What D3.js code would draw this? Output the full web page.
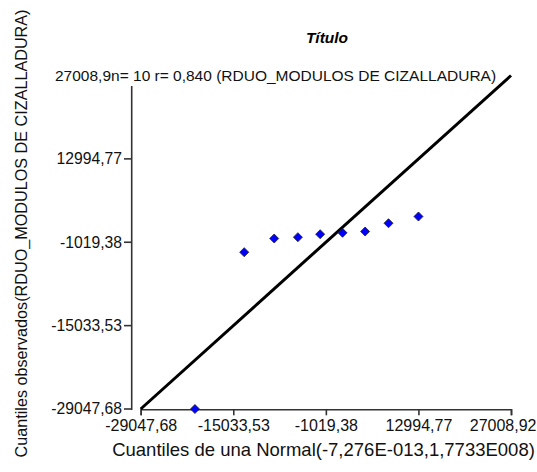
<!DOCTYPE html>
<html><head><meta charset="utf-8">
<script src="https://cdn.jsdelivr.net/npm/d3@7"></script>
<style>body{margin:0;background:#fff}svg{display:block}text{font-family:"Liberation Sans",Arial,sans-serif}</style>
</head><body>
<script>
const axisMin = -29047.68, axisMax = 27008.92;
const xTickValues = [-29047.68, -15033.53, -1019.38, 12994.77, 27008.92];
const xTickLabels = ["-29047,68", "-15033,53", "-1019,38", "12994,77", "27008,92"];
const yTickValues = [-29047.68, -15033.53, -1019.38, 12994.77];
const yTickLabels = ["-29047,68", "-15033,53", "-1019,38", "12994,77"];
const theoretical = [-20834, -13377, -8840, -5254, -1881, 1507, 4926, 8465, 13002];
const observed = [-29047.68, -2693, -390, -172, 333, 568, 787, 2181, 3308];
const title = "Título";
const topText = "27008,9n= 10 r= 0,840 (RDUO_MODULOS DE CIZALLADURA)";
const xTitle = "Cuantiles de una Normal(-7,276E-013,1,7733E008)";
const yTitle = "Cuantiles observados(RDUO_MODULOS DE CIZALLADURA)";

const W = 537, H = 472;
const svg = d3.select("body").append("svg").attr("width", W).attr("height", H);
const x = d3.scaleLinear().domain([axisMin, axisMax]).range([140.7, 511]);
const y = d3.scaleLinear().domain([axisMin, axisMax]).range([409, 75.5]);

// title
svg.append("text").attr("x", 327).attr("y", 43).attr("text-anchor", "middle")
  .attr("font-size", 15.5).attr("font-weight", "bold").attr("font-style", "italic").text(title);

// x axis
const xAxis = svg.append("g").attr("transform", "translate(0,409.3)")
  .call(d3.axisBottom(x).tickValues(xTickValues).tickFormat((d, i) => xTickLabels[i]).tickSizeOuter(0).tickSize(6));
xAxis.select(".domain").attr("stroke", "#333").attr("stroke-width", 1.6);
xAxis.selectAll(".tick line").attr("stroke", "#333").attr("stroke-width", 1.6);
xAxis.selectAll(".tick text").attr("font-size", 16).attr("fill", "#111").attr("y", 10).attr("dy", "0.71em")
  .attr("font-family", '"Liberation Sans",Arial,sans-serif');
// keep the last label inside the picture, as in the reference
xAxis.selectAll(".tick text").filter((d, i) => i === xTickValues.length - 1)
  .attr("text-anchor", "end").attr("x", 536 - 511);

// y axis line
svg.append("line").attr("x1", 131.7).attr("x2", 131.7).attr("y1", 86).attr("y2", 410)
  .attr("stroke", "#333").attr("stroke-width", 1.6);
const yg = svg.append("g");
yg.selectAll("line").data(yTickValues).join("line")
  .attr("x1", 124).attr("x2", 131.7).attr("y1", d => y(d)).attr("y2", d => y(d))
  .attr("stroke", "#333").attr("stroke-width", 1.6);
yg.selectAll("text").data(yTickValues).join("text")
  .attr("x", 122).attr("y", d => y(d)).attr("dy", "0.35em").attr("text-anchor", "end")
  .attr("font-size", 15.7).attr("fill", "#111").text((d, i) => yTickLabels[i]);

// top label
svg.append("text").attr("x", 55).attr("y", y(axisMax)).attr("dy", "0.35em")
  .attr("font-size", 15.5).attr("fill", "#111").text(topText);

// reference line
svg.append("line").attr("x1", x(axisMin)).attr("y1", y(axisMin)).attr("x2", x(axisMax)).attr("y2", y(axisMax))
  .attr("stroke", "#000").attr("stroke-width", 3);

// points
const diamond = d3.symbol().type(d3.symbolDiamond2).size(52);
svg.append("g").selectAll("path").data(theoretical).join("path")
  .attr("d", diamond)
  .attr("transform", (d, i) => `translate(${x(d)},${y(observed[i])})`)
  .attr("fill", "#0000ff").attr("stroke", "#222").attr("stroke-width", 0.8);

// axis titles
svg.append("text").attr("x", 323.5).attr("y", 450).attr("dy", "0.35em").attr("text-anchor", "middle")
  .attr("font-size", 18.5).attr("fill", "#111").text(xTitle);
svg.append("text").attr("transform", "translate(21,233.5) rotate(-90)").attr("dy", "0.35em").attr("text-anchor", "middle")
  .attr("font-size", 16.2).attr("fill", "#111").text(yTitle);
</script>
</body></html>
